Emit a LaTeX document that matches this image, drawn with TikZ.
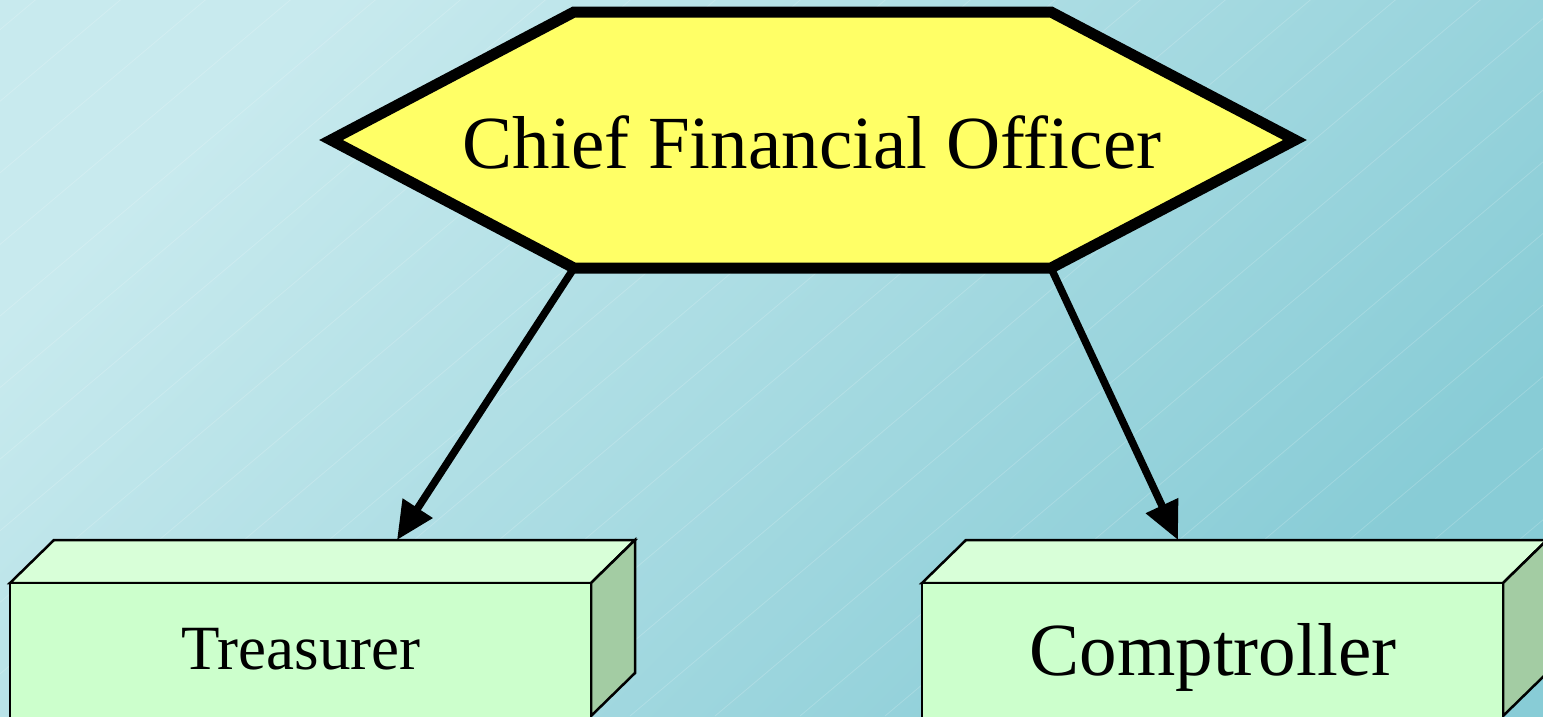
\documentclass[tikz,border=0pt]{standalone}
\usepackage{fontspec}
\setmainfont{Liberation Serif}
\usetikzlibrary{arrows.meta}
\definecolor{bgA}{RGB}{200,234,238}
\definecolor{bgB}{RGB}{136,204,214}
\definecolor{hexfill}{RGB}{255,255,102}
\definecolor{frontfill}{RGB}{204,255,204}
\definecolor{topfill}{RGB}{216,255,216}
\definecolor{sidefill}{RGB}{163,204,163}
\tikzset{
  hexline/.style={draw=black,line width=11pt,line join=miter,fill=hexfill},
  boxface/.style={draw=black,line width=2.5pt,line join=miter},
  link/.style={draw=black,line width=7.5pt,-{Triangle[length=38pt,width=34pt]}},
  lbl/.style={anchor=base,inner sep=0pt,text=black},
  hatchline/.style={draw=white,line width=0.8pt,opacity=0.18}
}
\begin{document}
\begin{tikzpicture}[x=1pt,y=-1pt]
\useasboundingbox (0,0) rectangle (1543,716);
\shade[top color=bgA,bottom color=bgB,shading angle=45] (0,0) rectangle (1543,716);
\begin{scope}
\clip (0,0) rectangle (1543,716);
\foreach \k in {0,...,30} {
  \path[hatchline] (-900+\k*85,716) -- ++(950,-800);
}
\end{scope}
% hexagon
\coordinate (hL) at (331,140);
\coordinate (hTL) at (574,12);
\coordinate (hTR) at (1051,12);
\coordinate (hR) at (1295,140);
\coordinate (hBR) at (1051,268);
\coordinate (hBL) at (574,268);
\path[hexline] (hL) -- (hTL) -- (hTR) -- (hR) -- (hBR) -- (hBL) -- cycle;
\node[lbl,font=\fontsize{75}{90}\selectfont] (cfo) at (812,168) {Chief Financial Officer};
% Treasurer box
\path[boxface,fill=topfill] (10,583) -- (54,540) -- (635,540) -- (591,583) -- cycle;
\path[boxface,fill=sidefill] (591,583) -- (635,540) -- (635,673) -- (591,716) -- cycle;
\path[boxface,fill=frontfill] (10,583) rectangle (591,720);
\coordinate (tTop) at (397,540);
\node[lbl,font=\fontsize{63}{76}\selectfont] (treas) at (301,669) {Treasurer};
% Comptroller box
\path[boxface,fill=topfill] (922,583) -- (966,540) -- (1547,540) -- (1503,583) -- cycle;
\path[boxface,fill=sidefill] (1503,583) -- (1547,540) -- (1547,673) -- (1503,716) -- cycle;
\path[boxface,fill=frontfill] (922,583) rectangle (1503,720);
\coordinate (cTop) at (1178,540);
\node[lbl,font=\fontsize{75}{90}\selectfont] (comp) at (1213,675) {Comptroller};
% connectors
\draw[link] (hBL) -- (tTop);
\draw[link] (hBR) -- (cTop);
\end{tikzpicture}
\end{document}
